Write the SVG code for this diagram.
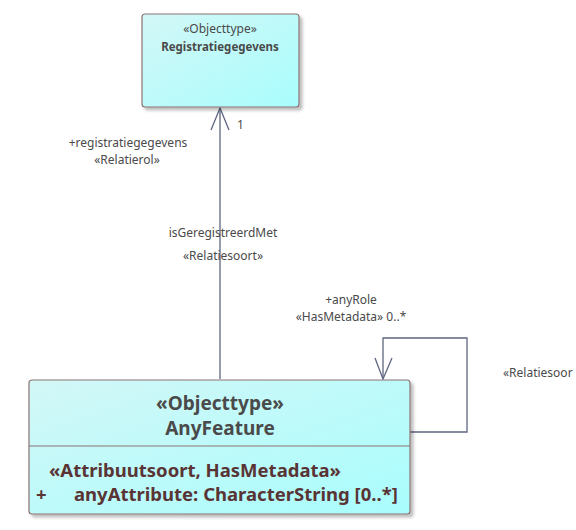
<svg xmlns="http://www.w3.org/2000/svg" width="576" height="530" viewBox="0 0 576 530">
<defs>
<linearGradient id="fill" x1="0" y1="0" x2="1" y2="1">
<stop offset="0" stop-color="#d3f7f7"/>
<stop offset="1" stop-color="#a9fdfd"/>
</linearGradient>
<filter id="sh" x="-5%" y="-5%" width="115%" height="120%">
<feDropShadow dx="3" dy="3" stdDeviation="1.5" flood-color="#000" flood-opacity="0.25"/>
</filter>
<style>
.box{fill:url(#fill);stroke:#8b7373;stroke-width:1.2;filter:url(#sh)}
.t{font-family:"Noto Sans","Open Sans",sans-serif;fill:#4a4a4a}
.s{font-size:12px}
.b{font-size:19px;font-weight:bold}
.a{font-size:18.5px;font-weight:bold;fill:#5a3434}
.c{fill:none;stroke:#5f6680;stroke-width:1.3}
</style>
</defs>
<g id="connectors">
<line class="c" x1="220" y1="379" x2="220" y2="108"/>
<polyline class="c" points="211,130 220,108 229,130"/>
<polyline class="c" points="410,432 467,432 467,338 383,338 383,379"/>
<polyline class="c" points="375,358 383,379 392,358"/>
<text class="t s" x="237" y="129">1</text>
<text class="t s" x="128" y="147" text-anchor="middle">+registratiegegevens</text>
<text class="t s" x="127" y="164" text-anchor="middle">«Relatierol»</text>
<text class="t s" x="223" y="237" text-anchor="middle">isGeregistreerdMet</text>
<text class="t s" x="223" y="260" text-anchor="middle">«Relatiesoort»</text>
<text class="t s" x="351" y="304" text-anchor="middle">+anyRole</text>
<text class="t s" x="351" y="321" text-anchor="middle">«HasMetadata» 0..*</text>
<text class="t s" x="503" y="377">«Relatiesoor</text>
</g>
<g id="Registratiegegevens">
<rect class="box" x="142" y="14" width="157" height="93" rx="3"/>
<text class="t s" x="220" y="33" text-anchor="middle">«Objecttype»</text>
<text class="t" x="220" y="51" text-anchor="middle" font-size="11.5" font-weight="bold">Registratiegegevens</text>
</g>
<g id="AnyFeature">
<rect class="box" x="29" y="380" width="381" height="134" rx="3"/>
<line x1="29" y1="446" x2="410" y2="446" stroke="#8b7373" stroke-width="1.2"/>
<text class="t b" x="220" y="410" text-anchor="middle">«Objecttype»</text>
<text class="t b" x="220" y="435" text-anchor="middle">AnyFeature</text>
<text class="t a" x="49" y="477">«Attribuutsoort, HasMetadata»</text>
<text class="t a" x="36" y="501">+</text>
<text class="t a" x="74" y="501">anyAttribute: CharacterString [0..*]</text>
</g>
</svg>
